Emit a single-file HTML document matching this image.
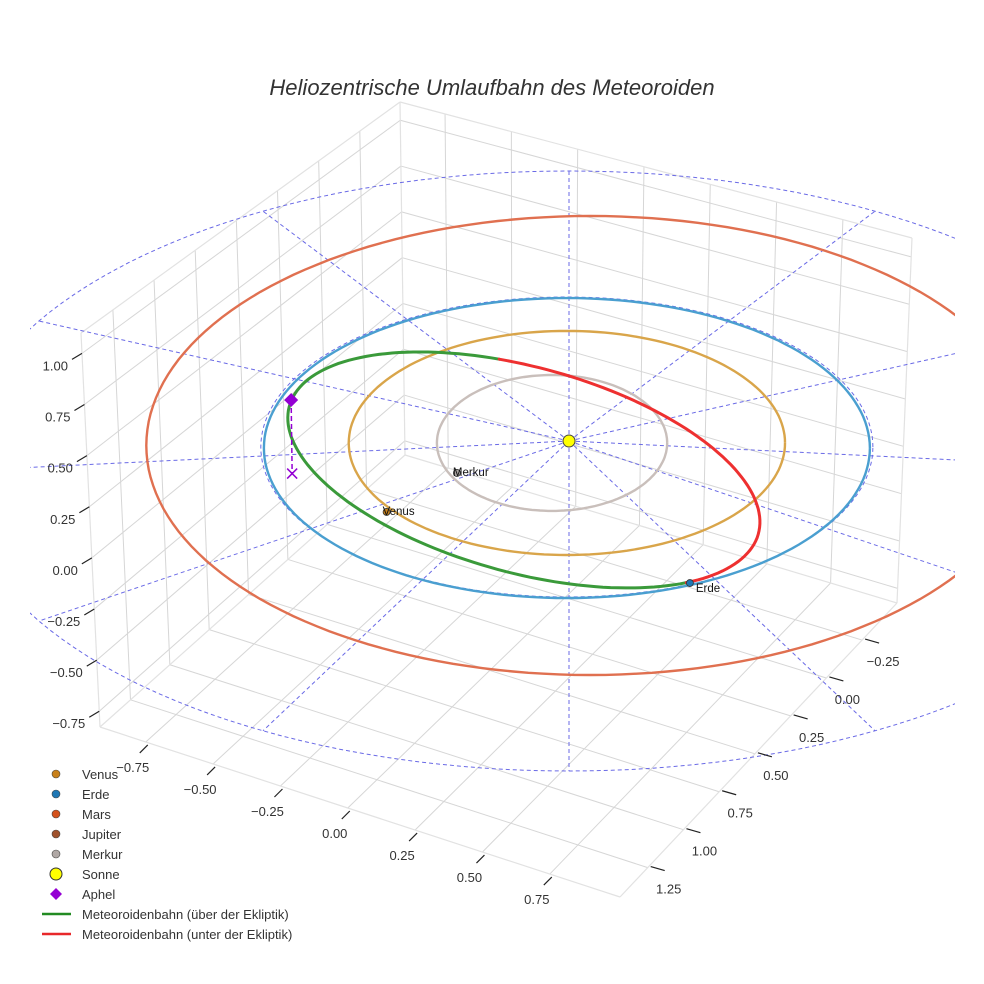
<!DOCTYPE html>
<html><head><meta charset="utf-8"><style>
html,body{margin:0;padding:0;background:#fff;}
svg{display:block;font-family:"Liberation Sans",sans-serif;}
</style></head><body>
<svg id="chart" width="984" height="984" viewBox="0 0 984 984">
<defs><clipPath id="plotclip"><rect x="30" y="100" width="925" height="800"/></clipPath></defs>
<g id="box"></g>
<g id="eclip" clip-path="url(#plotclip)"></g>
<g id="orbits" clip-path="url(#plotclip)"></g>
<g id="meteor"></g>
<g id="marks"></g>
<g id="ticks"></g>
<text x="492" y="95" text-anchor="middle" font-size="22" font-style="italic" fill="#333">Heliozentrische Umlaufbahn des Meteoroiden</text>
<g id="legend"></g>
</svg>
<script>
// ---- data ----
const orbitNames = ["Merkur","Venus","Erde","Mars"];
const orbitA = [0.38, 0.72, 1.0, 1.465];
const orbitB = [0.453, 0.747, 1.0, 1.53];
const orbitCX = [-0.056, -0.007, -0.007, 0.07];
const orbitCY = [-0.013, -0.013, -0.047, -0.03];
const orbitColors = ["#c9bfbb","#d9a54a","#4a9fd0","#e07050"];
// meteoroid orbit (projected ellipse): center, two conjugate semi-axis vectors (AU)
const meteorCenter = [-0.149, -0.193];
const meteorAxisU = [0.779, -0.347];
const meteorAxisV = [0.0, -0.706];
const meteorBelowStartDeg = [-96];
const meteorBelowEndDeg = [46.5];
const bodyNames = ["Merkur","Venus","Erde"];
const bodyX = [-0.37, -0.602, 0.399];
const bodyY = [-0.213, -0.473, -0.947];
const bodyColors = ["#a9a3a0","#c8801a","#1f77b4"];
const aphelX = -0.917, aphelY = 0.273, aphelZ = 0.49;
const xTicks = ["−0.75","−0.50","−0.25","0.00","0.25","0.50","0.75"];
const yTicks = ["1.25","1.00","0.75","0.50","0.25","0.00","−0.25"];
const zTicks = ["−0.75","−0.50","−0.25","0.00","0.25","0.50","0.75","1.00"];
const zTickVals = [-0.75,-0.5,-0.25,0,0.25,0.5,0.75,1.0];
const legendLabels = ["Venus","Erde","Mars","Jupiter","Merkur","Sonne","Aphel","Meteoroidenbahn (über der Ekliptik)","Meteoroidenbahn (unter der Ekliptik)"];
const legendColors = ["#c8801a","#1f77b4","#d4521c","#a0522d","#b0a8a5","#ffff00","#9400d3","#228b22","#e8282a"];

// ---- projection ----
const SX=569, SY=441, KX=303, KY=150;
function px(X){return SX+KX*X;}
function py(Y){return SY-KY*Y;}
const NS="http://www.w3.org/2000/svg";
function mk(parent,tag,attrs){const e=document.createElementNS(NS,tag);for(const k in attrs)e.setAttribute(k,attrs[k]);parent.appendChild(e);return e;}
function ellPath(a,b,cx,cy){let d="";for(let i=0;i<=180;i++){const t=i/180*2*Math.PI;d+=(i?"L":"M")+px(cx+a*Math.cos(t)).toFixed(1)+","+py(cy+b*Math.sin(t)).toFixed(1);}return d;}

// ---- box grid ----
const Lb=[100,727],Lt=[81,333],Bt=[400,102],Bb=[405,455],Rt=[912,238],Rb=[897,603],F=[620,897];
function lerp(a,b,t){return [a[0]+(b[0]-a[0])*t,a[1]+(b[1]-a[1])*t];}
function bil(A,B,D,C,u,v){return lerp(lerp(A,B,u),lerp(D,C,u),v);}
const box=document.getElementById('box');
function gl(p,q,c,w){const l=mk(box,'line',{x1:p[0],y1:p[1],x2:q[0],y2:q[1],stroke:c||'#d6d6d6','stroke-width':w||1});}
const fx=xTicks.map((_,i)=>0.088+0.1295*i);
const fy=yTicks.map((_,i)=>0.1+0.129*i);
const fz=zTickVals.map(z=>0.04+0.519*(z+0.75));
fy.forEach(u=>gl(bil(Lb,Bb,Lt,Bt,u,0),bil(Lb,Bb,Lt,Bt,u,1)));
fz.forEach(v=>gl(bil(Lb,Bb,Lt,Bt,0,v),bil(Lb,Bb,Lt,Bt,1,v)));
fx.forEach(u=>gl(bil(Bb,Rb,Bt,Rt,u,0),bil(Bb,Rb,Bt,Rt,u,1)));
fz.forEach(v=>gl(bil(Bb,Rb,Bt,Rt,0,v),bil(Bb,Rb,Bt,Rt,1,v)));
fx.forEach(u=>gl(lerp(Lb,F,u),lerp(Bb,Rb,u)));
fy.forEach(v=>gl(lerp(F,Rb,v),lerp(Lb,Bb,v)));
[[Lb,Lt],[Lt,Bt],[Bt,Rt],[Rt,Rb],[Bb,Bt],[Lb,F],[F,Rb],[Lb,Bb],[Bb,Rb]].forEach(e=>gl(e[0],e[1],'#e2e2e2',1.2));

// ---- ecliptic dashed grid ----
const ec=document.getElementById('eclip');
let p=mk(ec,'path',{d:ellPath(2.02,2.0,0,-0.2),fill:'none',stroke:'#6a6ae6','stroke-width':1,'stroke-dasharray':'4,3'});

p=mk(ec,'path',{d:ellPath(1.01,1.0,-0.007,-0.04),fill:'none',stroke:'#6a6ae6','stroke-width':1,'stroke-dasharray':'4,3'});

for(let k=0;k<12;k++){const t=k*Math.PI/6;
 const l=mk(ec,'line',{x1:SX,y1:SY,x2:px(2.02*Math.cos(t)),y2:py(-0.2+2.0*Math.sin(t)),stroke:'#6a6ae6','stroke-width':1,'stroke-dasharray':'4,3'});
 }

// ---- planet orbits ----
const og=document.getElementById('orbits');
orbitNames.forEach((n,i)=>{const e=mk(og,'path',{d:ellPath(orbitA[i],orbitB[i],orbitCX[i],orbitCY[i]),fill:'none',stroke:orbitColors[i],'stroke-width':2.4});
 });

// ---- meteoroid orbit ----
const mg=document.getElementById('meteor');
function mpt(deg){const t=deg*Math.PI/180;
 return [px(meteorCenter[0]+meteorAxisU[0]*Math.cos(t)+meteorAxisV[0]*Math.sin(t)),
         py(meteorCenter[1]+meteorAxisU[1]*Math.cos(t)+meteorAxisV[1]*Math.sin(t))];}
function arc(d0,d1){let d="";const n=Math.max(8,Math.ceil(Math.abs(d1-d0)/2));for(let i=0;i<=n;i++){const q=mpt(d0+(d1-d0)*i/n);d+=(i?"L":"M")+q[0].toFixed(1)+","+q[1].toFixed(1);}return d;}
let e=mk(mg,'path',{d:arc(meteorBelowEndDeg[0],meteorBelowStartDeg[0]+360),fill:'none',stroke:'#3a9a3a','stroke-width':3,'stroke-linecap':'round'});

e=mk(mg,'path',{d:arc(meteorBelowStartDeg[0],meteorBelowEndDeg[0]),fill:'none',stroke:'#ee3030','stroke-width':3,'stroke-linecap':'round'});


// ---- bodies ----
const bg=document.getElementById('marks');
let a=mk(bg,'line',{x1:px(aphelX),y1:py(aphelY),x2:px(aphelX)+1,y2:py(aphelY)+KY*aphelZ,stroke:'#9400d3','stroke-width':1.5,'stroke-dasharray':'5,3'});

const xx=px(aphelX)+1,xy=py(aphelY)+KY*aphelZ;
a=mk(bg,'path',{d:`M${xx-5},${xy-5}L${xx+5},${xy+5}M${xx-5},${xy+5}L${xx+5},${xy-5}`,stroke:'#9400d3','stroke-width':1.5});

a=mk(bg,'path',{d:`M${px(aphelX)},${py(aphelY)-7}l7,7l-7,7l-7,-7z`,fill:'#9400d3'});

bodyNames.forEach((n,i)=>{const c=mk(bg,'circle',{cx:px(bodyX[i]),cy:py(bodyY[i]),r:3.5,fill:bodyColors[i],stroke:'#333','stroke-width':0.8});
 
 const t=mk(bg,'text',{x:px(bodyX[i])+(n==="Erde"?6:-4),y:py(bodyY[i])+(n==="Erde"?9:3),'font-size':11.5,fill:'#111'});t.textContent=n;
 });
a=mk(bg,'circle',{cx:SX,cy:SY,r:6,fill:'#ffff00',stroke:'#444','stroke-width':1});


// ---- ticks ----
const tg=document.getElementById('ticks');
function tl(x1,y1,x2,y2){const l=mk(tg,'line',{x1,y1,x2,y2,stroke:'#222','stroke-width':1.2});}
function tx(s,x,y,anchor){const t=mk(tg,'text',{x,y,'font-size':13,fill:'#333','text-anchor':anchor||'middle'});t.textContent=s;}
xTicks.forEach((s,i)=>{const q=lerp(Lb,F,fx[i]);tl(q[0]-6,q[1]+11,q[0]+2,q[1]+3);tx(s,q[0]-13,q[1]+30);});
yTicks.forEach((s,i)=>{const q=lerp(F,Rb,fy[i]);tl(q[0]+3,q[1]-1,q[0]+17,q[1]+3);tx(s,q[0]+21,q[1]+26);});
zTicks.forEach((s,i)=>{const q=lerp(Lb,Lt,fz[i]);tl(q[0]-10,q[1]+6,q[0],q[1]);tx(s,q[0]-14,q[1]+17,'end');});

// ---- legend ----
const lg=document.getElementById('legend');
legendLabels.forEach((s,i)=>{const y=774+20*i;let m;
 if(i<5)m=mk(lg,'circle',{cx:56,cy:y,r:4,fill:legendColors[i],stroke:'#444','stroke-width':0.6});
 else if(i===5)m=mk(lg,'circle',{cx:56,cy:y,r:6,fill:legendColors[i],stroke:'#333','stroke-width':1});
 else if(i===6)m=mk(lg,'path',{d:`M56,${y-6}l6,6l-6,6l-6,-6z`,fill:legendColors[i]});
 else m=mk(lg,'line',{x1:42,y1:y,x2:71,y2:y,stroke:legendColors[i],'stroke-width':2.5});
 
 const t=mk(lg,'text',{x:82,y:y+5,'font-size':13,fill:'#333'});t.textContent=s;
 });
</script>
</body></html>
